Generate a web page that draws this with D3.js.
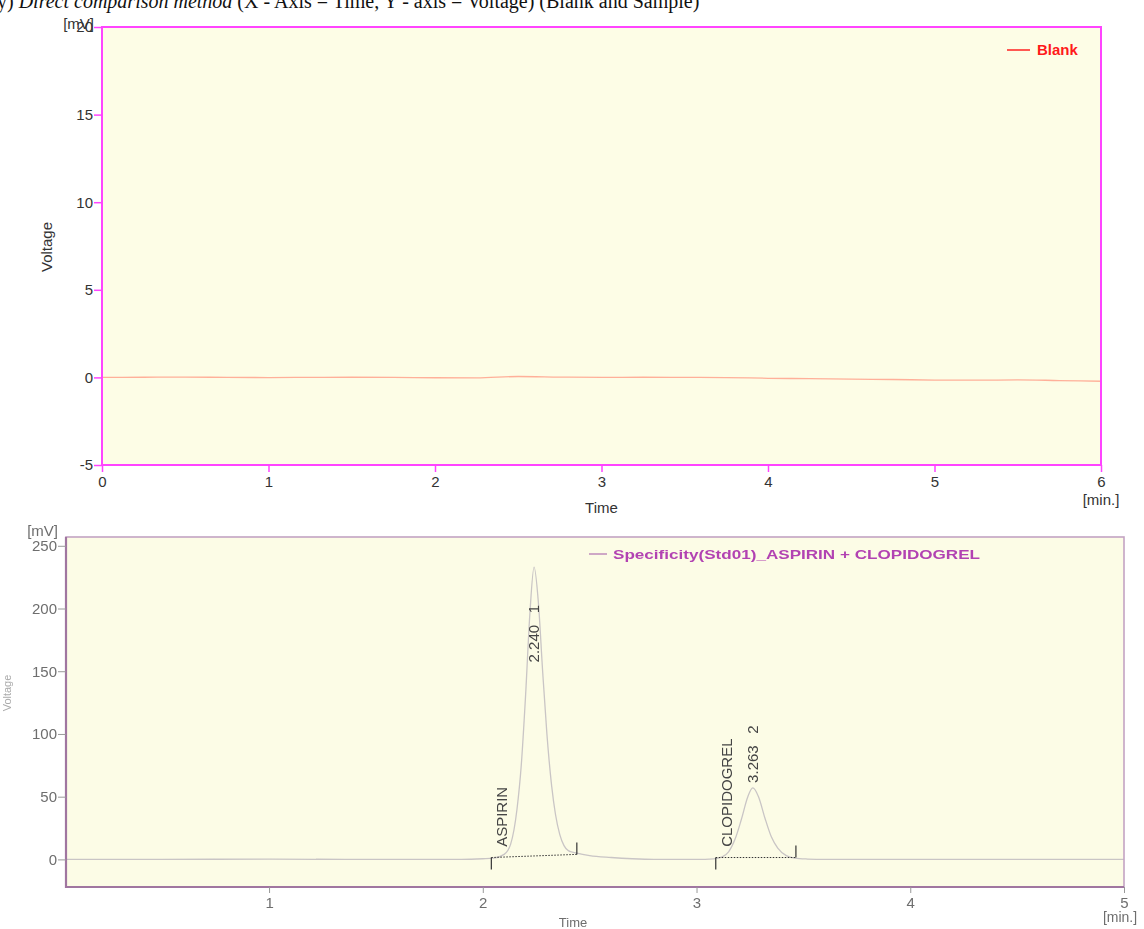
<!DOCTYPE html>
<html>
<head>
<meta charset="utf-8">
<script src="https://cdn.jsdelivr.net/npm/d3@7"></script>
<style>
  body { margin: 0; background: #ffffff; }
  svg { display: block; font-family: "Liberation Sans", Arial, sans-serif; }
</style>
</head>
<body>
<svg id="chart" width="1144" height="929"></svg>
<script>
// ---- Blank injection (upper chromatogram) ----
const blankTime   = [0, 0.25, 0.5, 0.75, 1, 1.25, 1.5, 1.75, 2, 2.25, 2.5, 2.75, 3, 3.25, 3.5, 3.75, 4, 4.25, 4.5, 4.75, 5, 5.25, 5.5, 5.75, 6];
const blankSignal = [0, 0.01, 0.02, 0, -0.01, 0, 0.01, 0, -0.02, -0.03, 0.05, 0.02, 0, 0.01, 0, -0.01, -0.05, -0.07, -0.1, -0.12, -0.15, -0.16, -0.14, -0.18, -0.22];
const blankYTicks = [-5, 0, 5, 10, 15, 20];
const blankXTicks = [0, 1, 2, 3, 4, 5, 6];

// ---- Standard injection (lower chromatogram) ----
const sampleTime   = [0.05, 0.5, 1.0, 1.5, 1.9, 2.0, 2.05, 2.10, 2.13, 2.16, 2.18, 2.20, 2.22, 2.24, 2.26, 2.28, 2.30, 2.32, 2.34, 2.36, 2.38, 2.40, 2.44, 2.50, 2.60, 2.70, 2.80, 3.0, 3.08, 3.12, 3.15, 3.18, 3.21, 3.24, 3.263, 3.29, 3.32, 3.35, 3.38, 3.42, 3.46, 3.52, 3.6, 3.8, 4.2, 4.6, 5.0];
const sampleSignal = [0, 0, 0.2, 0, 0, 0.5, 1, 4, 12, 40, 75, 130, 195, 233, 205, 150, 100, 62, 36, 20, 11, 7, 5, 3, 1.5, 0.5, 0, 0, 0.5, 2, 6, 16, 32, 50, 57, 50, 33, 18, 9, 3, 1, 0.3, 0, 0, 0, 0, 0];
const sampleYTicks = [0, 50, 100, 150, 200, 250];
const sampleXTicks = [1, 2, 3, 4, 5];

// integrated peaks
const peakNames     = ["ASPIRIN", "CLOPIDOGREL"];
const peakNumbers   = [1, 2];
const peakRT        = [2.240, 3.263];
const peakStart     = [2.04, 3.09];
const peakEnd       = [2.44, 3.465];
const peakBaseStart = [1.5, 1.5];
const peakBaseEnd   = [4, 1.5];

const svg = d3.select("#chart");
const plain = d => String(d);   // hyphen-minus, as the instrument software prints it

// caption line, partly cut by the page edge
const cap = svg.append("text").attr("x", -3).attr("y", 8)
  .attr("font-family", "'Liberation Serif', 'Times New Roman', serif")
  .attr("font-size", 20).attr("fill", "#111");
cap.append("tspan").text("y) ");
cap.append("tspan").attr("font-style", "italic").text("Direct comparison method");
cap.append("tspan").text(" (X - Axis = Time, Y - axis = Voltage) (Blank and Sample)");

// ================= upper panel =================
{
  const L = 102, R = 1101, T = 27, B = 465;
  const x = d3.scaleLinear().domain([0, 6]).range([L, R]);
  const y = d3.scaleLinear().domain([-5, 20]).range([B, T]);
  const g = svg.append("g");
  const pink = "#ff44ff";

  g.append("rect").attr("x", L).attr("y", T).attr("width", R - L).attr("height", B - T)
    .attr("fill", "#fdfde6");

  g.append("defs").append("clipPath").attr("id", "clipTop")
    .append("rect").attr("x", L).attr("y", T).attr("width", R - L).attr("height", B - T);

  const line = d3.line().x((d, i) => x(blankTime[i])).y(d => y(d)).curve(d3.curveMonotoneX);
  g.append("path").datum(blankSignal).attr("clip-path", "url(#clipTop)")
    .attr("d", line).attr("fill", "none")
    .attr("stroke", "#ff9c86").attr("stroke-width", 1.3).attr("stroke-opacity", 0.8);

  g.append("rect").attr("x", L).attr("y", T).attr("width", R - L).attr("height", B - T)
    .attr("fill", "none").attr("stroke", pink).attr("stroke-width", 2);

  const ya = g.append("g").attr("transform", `translate(${L},0)`)
    .call(d3.axisLeft(y).tickValues(blankYTicks).tickSize(8).tickPadding(1).tickFormat(plain));
  ya.select(".domain").remove();
  ya.selectAll("line").attr("stroke", pink).attr("stroke-width", 1.5);
  ya.selectAll("text").attr("fill", "#333").attr("font-size", 15)
    .attr("font-family", "'Liberation Sans', Arial, sans-serif");

  const xa = g.append("g").attr("transform", `translate(0,${B})`)
    .call(d3.axisBottom(x).tickValues(blankXTicks).tickSize(7).tickPadding(4).tickFormat(plain));
  xa.select(".domain").remove();
  xa.selectAll("line").attr("stroke", pink).attr("stroke-width", 1.5);
  xa.selectAll("text").attr("fill", "#333").attr("font-size", 15)
    .attr("font-family", "'Liberation Sans', Arial, sans-serif");

  g.append("text").attr("x", 94).attr("y", 29).attr("text-anchor", "end")
    .attr("font-size", 15).attr("fill", "#333").text("[mV]");
  g.append("text").attr("transform", "translate(52,247) rotate(-90)").attr("text-anchor", "middle")
    .attr("font-size", 15).attr("fill", "#333").text("Voltage");
  g.append("text").attr("x", (L + R) / 2).attr("y", 513).attr("text-anchor", "middle")
    .attr("font-size", 15).attr("fill", "#333").text("Time");
  g.append("text").attr("x", R).attr("y", 505).attr("text-anchor", "middle")
    .attr("font-size", 15).attr("fill", "#333").text("[min.]");

  g.append("line").attr("x1", 1007).attr("x2", 1030).attr("y1", 50).attr("y2", 50)
    .attr("stroke", "#ff2020").attr("stroke-width", 1.5);
  g.append("text").attr("x", 1037).attr("y", 55).attr("font-size", 15).attr("font-weight", "bold")
    .attr("fill", "#ff1a1a").text("Blank");
}

// ================= lower panel =================
{
  const L = 66, R = 1124, T = 537, B = 887;
  const x = d3.scaleLinear().domain([0.05, 5]).range([L, R]);
  const y = d3.scaleLinear().domain([-22, 257]).range([B, T]);
  const defs = svg.append("defs");
  defs.append("filter").attr("id", "soft").append("feGaussianBlur").attr("stdDeviation", 0.55);
  defs.append("clipPath").attr("id", "clipBottom")
    .append("rect").attr("x", L).attr("y", T).attr("width", R - L).attr("height", B - T);

  const g = svg.append("g").attr("filter", "url(#soft)");
  const grey = "#6e6e6e";

  g.append("rect").attr("x", L).attr("y", T).attr("width", R - L).attr("height", B - T)
    .attr("fill", "#fcfce6");

  const line = d3.line().x((d, i) => x(sampleTime[i])).y(d => y(d)).curve(d3.curveMonotoneX);
  g.append("path").datum(sampleSignal).attr("clip-path", "url(#clipBottom)")
    .attr("d", line).attr("fill", "none")
    .attr("stroke", "#c9c5c5").attr("stroke-width", 1.3);

  // integration baselines, boundary marks and peak annotations
  peakNames.forEach((name, i) => {
    const x0 = x(peakStart[i]), x1 = x(peakEnd[i]);
    const y0 = y(peakBaseStart[i]), y1 = y(peakBaseEnd[i]);
    g.append("line").attr("x1", x0).attr("x2", x1).attr("y1", y0).attr("y2", y1)
      .attr("stroke", "#333").attr("stroke-width", 1).attr("stroke-dasharray", "1.5,1.5");
    g.append("line").attr("x1", x0).attr("x2", x0).attr("y1", y0).attr("y2", y0 + 12)
      .attr("stroke", "#333").attr("stroke-width", 1.2);
    g.append("line").attr("x1", x1).attr("x2", x1).attr("y1", y1).attr("y2", y1 - 12)
      .attr("stroke", "#333").attr("stroke-width", 1.2);

    g.append("text")
      .attr("transform", `translate(${x0 + 16},${y(10)}) rotate(-90)`)
      .attr("font-family", "'Liberation Sans Narrow', 'Liberation Sans', Arial, sans-serif")
      .attr("font-size", 15).attr("fill", "#444").text(name);

    // retention-time label: just above the apex, but never higher than 157 mV
    const apex = d3.max(sampleSignal.filter((v, k) => Math.abs(sampleTime[k] - peakRT[i]) < 0.001));
    const labelAt = Math.min(157, apex + 4);
    g.append("text")
      .attr("transform", `translate(${x(peakRT[i]) + 5},${y(labelAt)}) rotate(-90)`)
      .attr("font-family", "'Liberation Sans Narrow', 'Liberation Sans', Arial, sans-serif")
      .attr("font-size", 15).attr("fill", "#444")
      .text(d3.format(".3f")(peakRT[i]) + "\u2002 " + peakNumbers[i]);
  });

  // frame
  g.append("rect").attr("x", L).attr("y", T).attr("width", R - L).attr("height", B - T)
    .attr("fill", "none").attr("stroke", "#c3a3c3").attr("stroke-width", 1.6);
  g.append("path").attr("d", `M${L},${T}V${B}H${R}`).attr("fill", "none")
    .attr("stroke", "#a076a0").attr("stroke-width", 2.2);

  const ya = g.append("g").attr("transform", `translate(${L},0)`)
    .call(d3.axisLeft(y).tickValues(sampleYTicks).tickSize(8).tickPadding(1).tickFormat(plain));
  ya.select(".domain").remove();
  ya.selectAll("line").attr("stroke", "#999");
  ya.selectAll("text").attr("fill", grey).attr("font-size", 15)
    .attr("font-family", "'Liberation Sans', Arial, sans-serif");

  const xa = g.append("g").attr("transform", `translate(0,${B})`)
    .call(d3.axisBottom(x).tickValues(sampleXTicks).tickSize(6).tickPadding(4).tickFormat(plain));
  xa.select(".domain").remove();
  xa.selectAll("line").attr("stroke", "#999");
  xa.selectAll("text").attr("fill", grey).attr("font-size", 15)
    .attr("font-family", "'Liberation Sans', Arial, sans-serif");

  g.append("text").attr("x", 58).attr("y", 536).attr("text-anchor", "end")
    .attr("font-size", 15).attr("fill", grey).text("[mV]");
  g.append("text").attr("transform", "translate(11,693) rotate(-90)").attr("text-anchor", "middle")
    .attr("font-size", 11).attr("fill", "#aaa").text("Voltage");
  g.append("text").attr("x", 573).attr("y", 927).attr("text-anchor", "middle")
    .attr("font-size", 13).attr("fill", grey).text("Time");
  g.append("text").attr("x", 1120).attr("y", 922).attr("text-anchor", "middle")
    .attr("font-size", 14).attr("fill", grey).text("[min.]");

  g.append("line").attr("x1", 589).attr("x2", 607).attr("y1", 554).attr("y2", 554)
    .attr("stroke", "#b57ab5").attr("stroke-width", 1.3);
  g.append("text").attr("x", 613).attr("y", 559).attr("font-size", 13).attr("font-weight", "bold")
    .attr("fill", "#b243b2").attr("textLength", 367).attr("lengthAdjust", "spacingAndGlyphs")
    .text("Specificity(Std01)_ASPIRIN + CLOPIDOGREL");
}
</script>
</body>
</html>
